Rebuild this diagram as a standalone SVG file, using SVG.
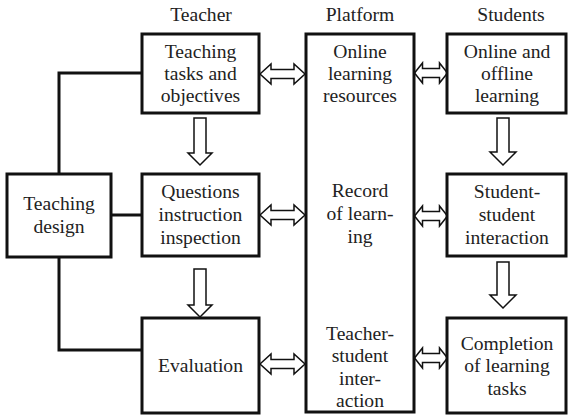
<svg xmlns="http://www.w3.org/2000/svg" width="568" height="415" viewBox="0 0 568 415" font-family="'Liberation Serif', 'DejaVu Serif', serif">
<style>
.box{fill:#fff;stroke:#111;stroke-width:3}
.ln{fill:none;stroke:#111;stroke-width:3}
.ar{fill:#fff;stroke:#111;stroke-width:1.5;stroke-linejoin:miter}
.t{font-family:'Liberation Serif','DejaVu Serif',serif;font-size:19.6px;fill:#222;text-anchor:middle}
</style>
<defs>
<polygon id="dblL" class="ar" points="0,0 11,-10 11,-4.5 34,-4.5 34,-10 45,0 34,10 34,4.5 11,4.5 11,10"/>
<polygon id="dblR" class="ar" points="0,0 8,-10 8,-4.5 25,-4.5 25,-10 33,0 25,10 25,4.5 8,4.5 8,10"/>
</defs>
<g id="headers" class="t">
<text x="201" y="21">Teacher</text>
<text x="360" y="21">Platform</text>
<text x="511" y="21">Students</text>
</g>
<g id="connectors">
<polyline class="ln" points="59,174 59,73 142,73"/>
<line class="ln" x1="111" y1="215" x2="142" y2="215"/>
<polyline class="ln" points="59,257 59,350 142,350"/>
<polygon class="ar" points="194,118 206,118 206,153 212,153 200,165 188,153 194,153"/>
<polygon class="ar" points="194,269 206,269 206,305 212,305 200,317 188,305 194,305"/>
<polygon class="ar" points="497,118 509,118 509,152 516,152 503,165 490,152 497,152"/>
<polygon class="ar" points="497,262 509,262 509,295 516,295 503,308 490,295 497,295"/>
<use href="#dblL" x="260" y="74"/>
<use href="#dblL" x="260" y="215"/>
<use href="#dblL" x="260" y="364"/>
<use href="#dblR" x="414.5" y="73"/>
<use href="#dblR" x="414.5" y="216"/>
<use href="#dblR" x="414.5" y="358"/>
</g>
<g id="teaching-design" class="t">
<rect class="box" x="7" y="174" width="104" height="83"/>
<text x="59" y="210">Teaching</text>
<text x="59" y="233">design</text>
</g>
<g id="teacher-tasks" class="t">
<rect class="box" x="142" y="34" width="117" height="79"/>
<text x="200.5" y="58">Teaching</text>
<text x="200.5" y="80">tasks and</text>
<text x="200.5" y="102">objectives</text>
</g>
<g id="teacher-questions" class="t">
<rect class="box" x="142" y="174" width="117" height="82"/>
<text x="200.5" y="198">Questions</text>
<text x="200.5" y="221">instruction</text>
<text x="200.5" y="244">inspection</text>
</g>
<g id="teacher-evaluation" class="t">
<rect class="box" x="142" y="318" width="117" height="95"/>
<text x="200.5" y="372">Evaluation</text>
</g>
<g id="platform" class="t">
<rect class="box" x="306" y="34" width="108" height="378"/>
<text x="360" y="58">Online</text>
<text x="360" y="80">learning</text>
<text x="360" y="102">resources</text>
<text x="360" y="197">Record</text>
<text x="360" y="220">of learn-</text>
<text x="360" y="243">ing</text>
<text x="360" y="340">Teacher-</text>
<text x="360" y="362">student</text>
<text x="360" y="385">inter-</text>
<text x="360" y="407">action</text>
</g>
<g id="students-learning" class="t">
<rect class="box" x="447" y="34" width="119" height="79"/>
<text x="507" y="58">Online and</text>
<text x="507" y="80">offline</text>
<text x="507" y="102">learning</text>
</g>
<g id="students-interaction" class="t">
<rect class="box" x="447" y="174" width="119" height="82"/>
<text x="507" y="198">Student-</text>
<text x="507" y="221">student</text>
<text x="507" y="244">interaction</text>
</g>
<g id="students-completion" class="t">
<rect class="box" x="447" y="318" width="119" height="95"/>
<text x="507" y="350">Completion</text>
<text x="507" y="372">of learning</text>
<text x="507" y="395">tasks</text>
</g>
</svg>
